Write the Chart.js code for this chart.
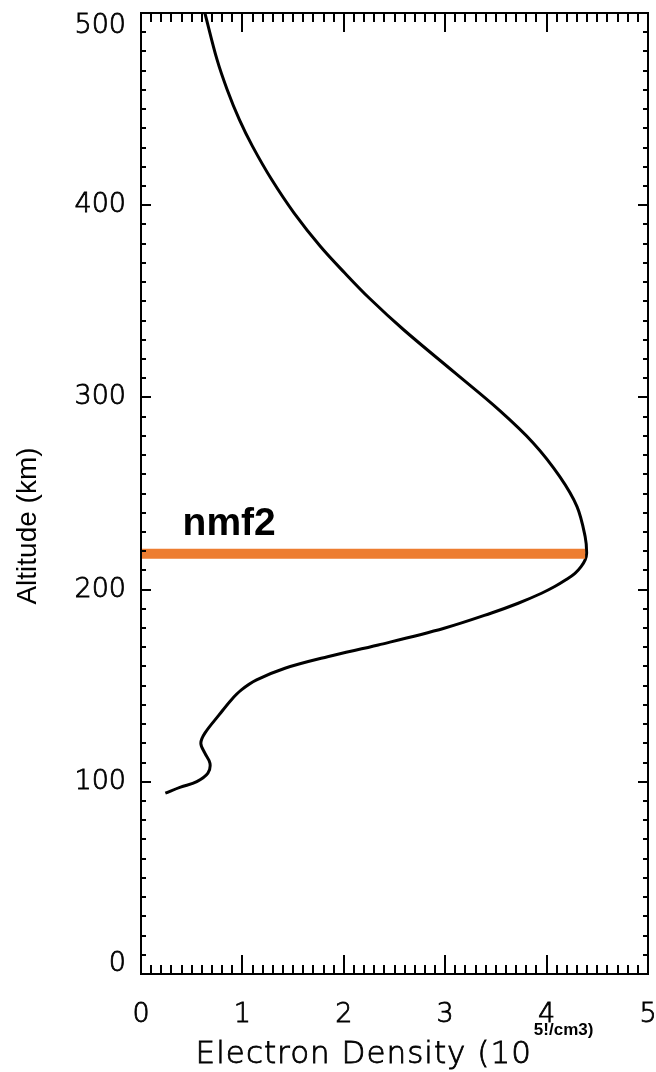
<!DOCTYPE html>
<html>
<head>
<meta charset="utf-8">
<script src="https://cdn.jsdelivr.net/npm/chart.js@4.4.1/dist/chart.umd.min.js"></script>
<style>
  html, body { margin: 0; padding: 0; background: #fff; }
  canvas { display: block; }
</style>
</head>
<body>
<canvas id="profile" width="656" height="1072"></canvas>
<script>
// Electron density profile (10^5 /cm3) against altitude (km)
const densityValues = [0.24, 0.39, 0.55, 0.66, 0.68, 0.63, 0.59, 0.63, 0.77, 0.89,
                       0.99, 1.14, 1.42, 1.84, 2.34, 2.99, 3.45, 3.72, 3.95, 4.08,
                       4.19, 4.28, 4.34, 4.38, 4.395, 4.38, 4.30, 4.13, 3.87, 3.53,
                       3.10, 2.59, 2.25, 2.01, 1.77, 1.51, 1.29, 1.10, 0.97, 0.85,
                       0.75, 0.63];
const altitudeValues = [94.1, 97.2, 100.1, 104.5, 109.7, 114.9, 120.1, 125.3, 134.8, 142.6,
                        147.8, 153.0, 159.1, 165.1, 171.2, 179.9, 187.7, 192.9, 198.1, 201.6,
                        205.1, 208.5, 212.0, 215.5, 219.0, 227.6, 243.2, 258.8, 276.2, 293.5,
                        312.6, 335.2, 351.7, 364.7, 378.5, 395.9, 413.2, 430.6, 444.5, 460.1,
                        475.7, 500];

// nmf2 marker line
const nmf2Density = [0, 4.38];
const nmf2Altitude = [218.7, 218.7];
const nmf2Label = 'nmf2';
const nmf2LabelPos = [0.41, 228.5];

// axis ticks
const xTickValues = [0, 1, 2, 3, 4, 5];
const yTickValues = [0, 100, 200, 300, 400, 500];
const xMinorStep = 0.1;
const yMinorStep = 10;

const labelFont = '"DejaVu Sans", sans-serif';

function toPoints(xs, ys) {
    return xs.map(function(v, i) { return { x: v, y: ys[i] }; });
}

// thin font drawn with a light outline so it reads like the IDL vector font
function drawThin(ctx, text, px, py) {
    ctx.fillText(text, px, py);
    ctx.strokeText(text, px, py);
}

// frame, inward ticks (IDL style), y labels and the axis titles / label
const framePlugin = {
    id: 'frameTicks',
    afterDatasetsDraw: function(chart) {
        const ctx = chart.ctx;
        const a = chart.chartArea;
        const x = chart.scales.x;
        const y = chart.scales.y;
        ctx.save();

        // nmf2 label
        ctx.fillStyle = '#000';
        ctx.font = 'bold 39px "Liberation Sans", Arial, sans-serif';
        ctx.textAlign = 'left';
        ctx.textBaseline = 'alphabetic';
        ctx.fillText(nmf2Label, x.getPixelForValue(nmf2LabelPos[0]), y.getPixelForValue(nmf2LabelPos[1]));

        // box
        ctx.strokeStyle = '#000';
        ctx.lineWidth = 2;
        ctx.strokeRect(a.left, a.top, a.right - a.left, a.bottom - a.top);

        ctx.beginPath();
        const nx = Math.round((xTickValues[xTickValues.length - 1] - xTickValues[0]) / xMinorStep);
        for (let i = 0; i <= nx; i++) {
            const v = xTickValues[0] + i * xMinorStep;
            const px = Math.round(x.getPixelForValue(v));
            const len = (i % 10 === 0) ? 19 : 9;
            ctx.moveTo(px, a.bottom); ctx.lineTo(px, a.bottom - len);
            ctx.moveTo(px, a.top); ctx.lineTo(px, a.top + len);
        }
        const ny = Math.round((yTickValues[yTickValues.length - 1] - yTickValues[0]) / yMinorStep);
        for (let j = 0; j <= ny; j++) {
            const v = yTickValues[0] + j * yMinorStep;
            const py = Math.round(y.getPixelForValue(v));
            const len = (j % 10 === 0) ? 10 : 5;
            ctx.moveTo(a.left, py); ctx.lineTo(a.left + len, py);
            ctx.moveTo(a.right, py); ctx.lineTo(a.right - len, py);
        }
        ctx.stroke();

        // y tick labels (end labels pulled inside the box like the original)
        ctx.lineWidth = 0.8;
        ctx.font = '200 27px ' + labelFont;
        ctx.textAlign = 'right';
        ctx.textBaseline = 'middle';
        yTickValues.forEach(function(v, k) {
            let py = y.getPixelForValue(v);
            if (k === 0) py -= 10;
            if (k === yTickValues.length - 1) py += 13;
            drawThin(ctx, String(v), a.left - 15, py);
        });

        // x title with superscript unit
        const main = 'Electron Density (10';
        const sup = '5!/cm3)';
        ctx.textAlign = 'left';
        ctx.textBaseline = 'alphabetic';
        ctx.font = '200 31px ' + labelFont;
        ctx.letterSpacing = '1px';
        const mw = ctx.measureText(main).width;
        ctx.letterSpacing = '0px';
        ctx.font = 'bold 17px "Liberation Sans", Arial, sans-serif';
        const sw = ctx.measureText(sup).width;
        const cx = (a.left + a.right) / 2;
        const x0 = cx - (mw + sw + 2) / 2;
        ctx.font = '200 31px ' + labelFont;
        ctx.letterSpacing = '1px';
        drawThin(ctx, main, x0, 1063);
        ctx.letterSpacing = '0px';
        ctx.font = 'bold 17px "Liberation Sans", Arial, sans-serif';
        ctx.fillText(sup, x0 + mw + 2, 1035);

        // y title
        ctx.translate(36, 526);
        ctx.rotate(-Math.PI / 2);
        ctx.font = '28px "Liberation Sans", Arial, sans-serif';
        ctx.textAlign = 'center';
        ctx.fillText('Altitude (km)', 0, 0);

        ctx.restore();
    }
};

new Chart(document.getElementById('profile'), {
    type: 'scatter',
    data: {
        datasets: [
            {
                label: 'nmf2',
                data: toPoints(nmf2Density, nmf2Altitude),
                showLine: true,
                borderColor: '#ED7D31',
                borderWidth: 10,
                borderCapStyle: 'butt',
                pointRadius: 0,
                order: 1
            },
            {
                label: 'Electron density',
                data: toPoints(densityValues, altitudeValues),
                showLine: true,
                borderColor: '#000',
                borderWidth: 3,
                tension: 0.35,
                pointRadius: 0,
                order: 2
            }
        ]
    },
    options: {
        responsive: false,
        animation: false,
        devicePixelRatio: 1,
        layout: { padding: { top: 13, right: 8, left: 0, bottom: 0 } },
        plugins: {
            legend: { display: false },
            tooltip: { enabled: false }
        },
        scales: {
            x: {
                type: 'linear',
                min: 0,
                max: 5,
                afterFit: function(scale) {
                    scale.height = 98;
                    scale.paddingLeft = 0;
                    scale.paddingRight = 0;
                },
                afterBuildTicks: function(scale) {
                    scale.ticks = xTickValues.map(function(v) { return { value: v }; });
                },
                grid: { display: false, drawTicks: false },
                border: { display: false },
                ticks: {
                    padding: 25,
                    color: '#000',
                    textStrokeColor: '#000',
                    textStrokeWidth: 0.8,
                    maxRotation: 0,
                    font: { family: labelFont, size: 27, weight: '200' }
                }
            },
            y: {
                type: 'linear',
                min: 0,
                max: 500,
                afterFit: function(scale) {
                    scale.width = 141;
                    scale.paddingTop = 0;
                    scale.paddingBottom = 0;
                },
                afterBuildTicks: function(scale) {
                    scale.ticks = yTickValues.map(function(v) { return { value: v }; });
                },
                grid: { display: false, drawTicks: false },
                border: { display: false },
                ticks: { display: false }
            }
        }
    },
    plugins: [framePlugin]
});
</script>
</body>
</html>
